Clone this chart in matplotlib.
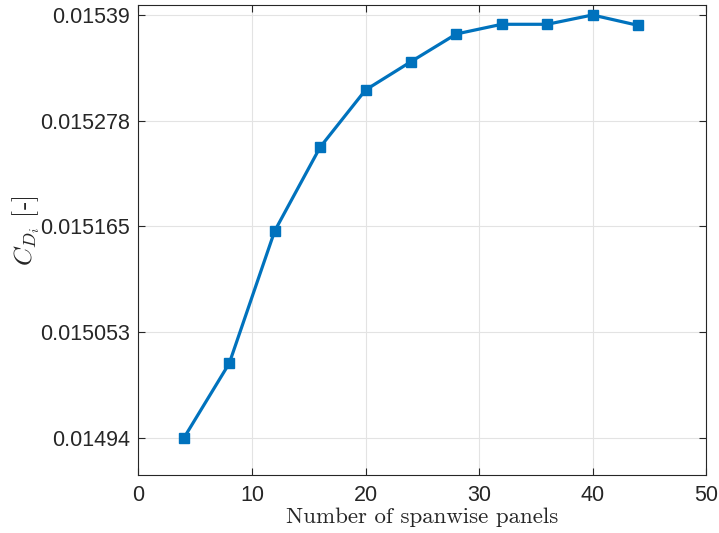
import matplotlib
matplotlib.use("Agg")
import matplotlib.pyplot as plt

# spanwise panel refinement study
panels = [4, 8, 12, 16, 20, 24, 28, 32, 36, 40, 44]
cdi = [0.01494, 0.0150195, 0.0151602, 0.0152493, 0.0153102, 0.0153403,
       0.0153698, 0.0153801, 0.0153801, 0.01539, 0.0153790]

ytick_vals = [0.01494, 0.0150525, 0.015165, 0.0152775, 0.01539]
ytick_labels = ["0.01494", "0.015053", "0.015165", "0.015278", "0.01539"]
xtick_vals = [0, 10, 20, 30, 40, 50]

plt.rcParams["mathtext.fontset"] = "cm"
plt.rcParams["font.family"] = ["Liberation Sans", "DejaVu Sans"]

fig = plt.figure(figsize=(7.19, 5.33), dpi=100)
ax = fig.add_axes([0.1926, 0.1088, 0.7894, 0.8809])

ax.plot(panels, cdi, color="#0072BD", lw=2.3, marker="s", ms=6.5,
        markeredgewidth=1.0, zorder=3)

ax.set_xlim(0, 50)
ax.set_ylim(0.0149006, 0.0154001)
ax.set_xticks(xtick_vals)
ax.set_yticks(ytick_vals)
ax.set_yticklabels(ytick_labels)

ax.grid(True, color="#e3e3e3", lw=0.8)
ax.set_axisbelow(True)
ax.tick_params(direction="in", length=5, width=0.8, colors="#262626",
               labelsize=15.5, top=True, right=True)
ax.tick_params(axis="x", pad=7)
ax.tick_params(axis="y", pad=6)
for s in ax.spines.values():
    s.set_color("#262626")
    s.set_linewidth(0.8)

ax.set_xlabel("Number of spanwise panels", fontsize=16.5, family="cmr10",
              color="#262626", labelpad=1)
ax.set_ylabel(r"$C_{D_i}$ [-]", fontsize=18.5, family="cmr10",
              color="#262626")
ax.yaxis.set_label_coords(-0.17, 0.52)

fig.savefig("out.png", dpi=100)
